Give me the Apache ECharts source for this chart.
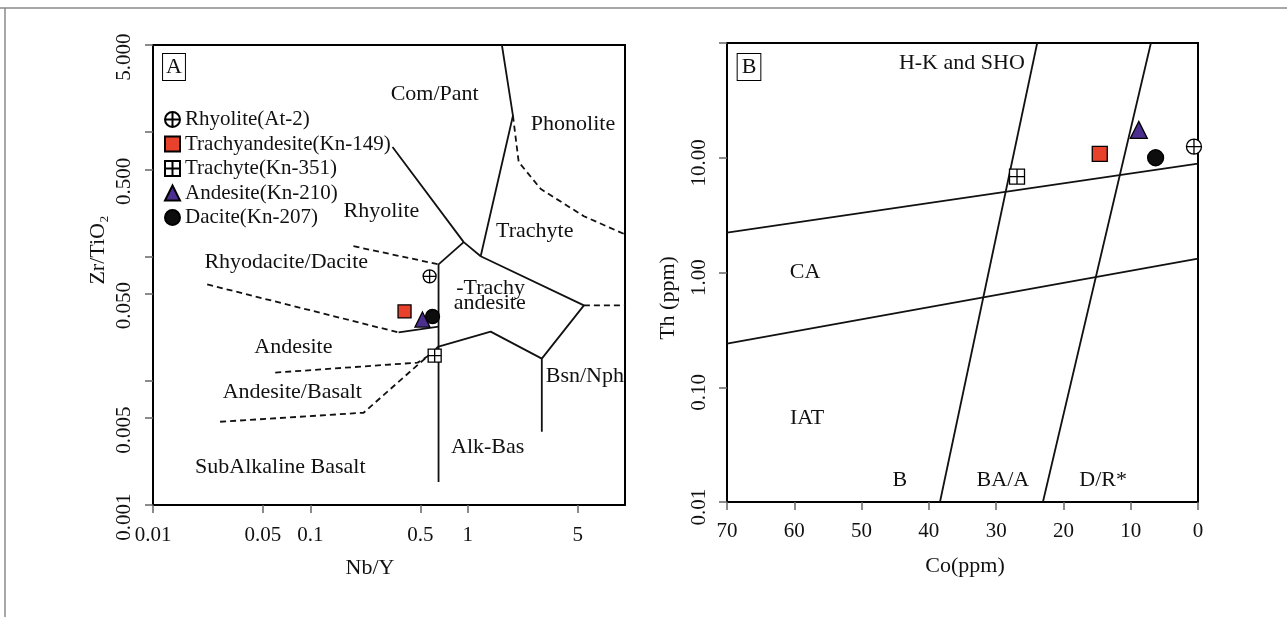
<!DOCTYPE html>
<html><head><meta charset="utf-8">
<script src="https://cdn.jsdelivr.net/npm/echarts@6/dist/echarts.min.js"></script>
<style>html,body{margin:0;padding:0;background:#fff}#c{width:1287px;height:617px}</style>
</head><body><div id="c"></div>
<script>
// ---------- data ----------
const sampleNames = ['Rhyolite(At-2)','Trachyandesite(Kn-149)','Trachyte(Kn-351)','Andesite(Kn-210)','Dacite(Kn-207)'];
// Panel A: Nb/Y vs Zr/TiO2
const nbY  = [0.573, 0.397, 0.617, 0.516, 0.598];
const zrTi = [0.069, 0.036, 0.0159, 0.031, 0.0328];
// Panel B: Co vs Th
const co = [0.6, 14.6, 26.9, 8.8, 6.3];
const th = [12.5, 10.8, 6.84, 17.5, 10.0];

// Panel A axis ticks
const aXTicks = [0.01, 0.05, 0.1, 0.5, 1, 5];
const aXTickLabels = ['0.01','0.05','0.1','0.5','1','5'];
const aYTicks = [0.001, 0.005, 0.01, 0.05, 0.1, 0.5, 1, 5];
const aYLabelValues = [0.001, 0.005, 0.05, 0.5, 5];
const aYTickLabels = ['0.001','0.005','0.050','0.500','5.000'];
const aXRange = [0.01, 10];
const aYRange = [0.001, 5];

// Panel B axis ticks
const bYRange = [0.01, 100];

// Panel A field boundaries (Nb/Y, Zr/TiO2)
const aSolid1 = [[0.653,0.00153],[0.653,0.0861],[0.944,0.130]];
const aSolid2 = [[0.333,0.757],[0.944,0.130],[1.21,0.100]];
const aSolid3 = [[1.65,5],[1.94,1.35],[1.21,0.100],[5.48,0.0403],[2.96,0.01503],[2.96,0.00388]];
const aSolid4 = [[2.96,0.01503],[1.40,0.0248],[0.653,0.0188]];
const aSolid5 = [[0.364,0.0244],[0.653,0.0272]];
const aDash1 = [[0.188,0.1205],[0.653,0.0861]];
const aDash2 = [[0.0221,0.0594],[0.364,0.0244]];
const aDash3 = [[0.0598,0.0116],[0.481,0.01396],[0.653,0.0178]];
const aDash4 = [[0.0267,0.00467],[0.218,0.00552],[0.653,0.0188]];
const aDash5 = [[1.94,1.35],[2.11,0.573],[2.92,0.347],[5.48,0.210],[10,0.150]];
const aDash6 = [[5.48,0.0403],[10,0.0403]];

// Panel B field boundaries (Co, Th)
const bLine1 = [[70,2.23],[0,8.87]];
const bLine2 = [[70,0.24],[0,1.32]];
const bLine3 = [[38.35,0.01],[23.9,100]];
const bLine4 = [[23.05,0.01],[7.0,100]];

// Field names
const aRegionNames = ['Com/Pant','Phonolite','Rhyolite','Trachyte','-Trachy','andesite','Rhyodacite/Dacite','Andesite','Andesite/Basalt','SubAlkaline Basalt','Alk-Bas','Bsn/Nph'];
const aRegionX = [0.617, 4.67, 0.283, 2.67, 1.40, 1.38, 0.0703, 0.078, 0.0768, 0.0644, 1.34, 5.56];
const aRegionY = [2.02, 1.16, 0.231, 0.159, 0.0555, 0.0420, 0.0895, 0.01845, 0.0080, 0.00202, 0.00294, 0.01077];
const bRegionNames = ['H-K and SHO','CA','IAT','B','BA/A','D/R*'];
const bRegionCo = [35.1, 58.4, 58.1, 44.3, 29.0, 14.1];
const bRegionTh = [67, 1.0, 0.0537, 0.0155, 0.0155, 0.0155];

// ---------- styles ----------
const F = 'Liberation Serif';
const TXT = '#111111';
const symCirclePlus = 'path://M0,-10A10,10,0,1,1,0,10A10,10,0,1,1,0,-10ZM-10,0L10,0M0,-10L0,10';
const symSquarePlus = 'path://M0,0L20,0L20,20L0,20ZM10,0L10,20M0,10L20,10';
const markerSymbols = [symCirclePlus, 'rect', symSquarePlus, 'triangle', 'circle'];
const markerFill = ['#ffffff', '#E8412C', '#ffffff', '#4B2E8E', '#0d0d0d'];
const markerSize = [13, 13, 13, 15, 14];
const markerZ = [4, 4, 4, 6, 5];

const L = Math.log10;
const lg = p => [L(p[0]), L(p[1])];
function fmtFrom(vals, labels) {
  return function (v) {
    for (let i = 0; i < vals.length; i++) if (Math.abs(L(vals[i]) - v) < 1e-6) return labels[i];
    return '';
  };
}

const series = [];
function lineA(pts, dashed) {
  series.push({ type: 'line', xAxisIndex: 0, yAxisIndex: 0, data: pts.map(lg), symbol: 'none', silent: true, z: 3,
    lineStyle: { color: '#111', width: 1.8, opacity: 1, type: dashed ? [6, 4] : 'solid' } });
}
function lineB(pts) {
  series.push({ type: 'line', xAxisIndex: 1, yAxisIndex: 1, data: pts, symbol: 'none', silent: true, z: 3,
    lineStyle: { color: '#111', width: 1.8, opacity: 1 } });
}
[aSolid1, aSolid2, aSolid3, aSolid4, aSolid5].forEach(p => lineA(p, false));
[aDash1, aDash2, aDash3, aDash4, aDash5, aDash6].forEach(p => lineA(p, true));
[bLine1, bLine2, bLine3, bLine4].forEach(lineB);

// field labels
const regionLabel = { show: true, position: 'inside', formatter: '{b}', fontFamily: F, fontSize: 22, color: TXT, opacity: 1 };
series.push({ type: 'scatter', xAxisIndex: 0, yAxisIndex: 0, symbolSize: 0, silent: true, z: 2,
  itemStyle: { opacity: 1 },
  data: aRegionNames.map((n, i) => ({ name: n, value: [L(aRegionX[i]), L(aRegionY[i])] })),
  label: regionLabel });
series.push({ type: 'scatter', xAxisIndex: 1, yAxisIndex: 1, symbolSize: 0, silent: true, z: 2,
  itemStyle: { opacity: 1 },
  data: bRegionNames.map((n, i) => ({ name: n, value: [bRegionCo[i], bRegionTh[i]] })),
  label: regionLabel });

// samples
sampleNames.forEach((n, i) => {
  const st = { color: markerFill[i], borderColor: '#000', borderWidth: 1.3, opacity: 1 };
  series.push({ type: 'scatter', name: n, xAxisIndex: 0, yAxisIndex: 0, z: markerZ[i],
    symbol: markerSymbols[i], symbolSize: markerSize[i], itemStyle: st,
    data: [[L(nbY[i]), L(zrTi[i])]] });
  series.push({ type: 'scatter', name: n, xAxisIndex: 1, yAxisIndex: 1, z: markerZ[i],
    symbol: markerSymbols[i], symbolSize: markerSize[i] + 2, itemStyle: st,
    data: [[co[i], th[i]]] });
});

const axisLine = { show: true, onZero: false, lineStyle: { color: '#000', width: 2 } };
const tick = { show: true, length: 8, lineStyle: { color: '#666', width: 1.5 } };
const lbl = { fontFamily: F, fontSize: 21, color: TXT };

const option = {
  animation: false,
  backgroundColor: '#fff',
  grid: [
    { left: 153, top: 45, width: 472, height: 460, show: true, borderColor: '#000', borderWidth: 2, backgroundColor: 'transparent' },
    { left: 727, top: 43, width: 471, height: 459, show: true, borderColor: '#000', borderWidth: 2, backgroundColor: 'transparent' }
  ],
  xAxis: [
    { type: 'value', gridIndex: 0, min: L(aXRange[0]), max: L(aXRange[1]), axisLine,
      axisTick: Object.assign({ customValues: aXTicks.map(L) }, tick),
      axisLabel: Object.assign({ customValues: aXTicks.map(L), formatter: fmtFrom(aXTicks, aXTickLabels), margin: 20 }, lbl),
      splitLine: { show: false } },
    { type: 'value', gridIndex: 1, min: 0, max: 70, interval: 10, inverse: true, axisLine,
      axisTick: tick,
      axisLabel: Object.assign({ margin: 19 }, lbl),
      splitLine: { show: false } }
  ],
  yAxis: [
    { type: 'value', gridIndex: 0, min: L(aYRange[0]), max: L(aYRange[1]), axisLine,
      axisTick: Object.assign({ customValues: aYTicks.map(L) }, tick),
      axisLabel: Object.assign({ customValues: aYLabelValues.map(L), formatter: fmtFrom(aYLabelValues, aYTickLabels), rotate: 90, margin: 18, padding: [0, 24, 0, 0] }, lbl),
      splitLine: { show: false } },
    { type: 'log', logBase: 10, gridIndex: 1, min: bYRange[0], max: bYRange[1], axisLine,
      axisTick: tick,
      axisLabel: Object.assign({ rotate: 90, margin: 17, padding: [0, 10, 0, 0],
        formatter: v => (v > 50 ? '' : Number(v).toFixed(2)) }, lbl),
      splitLine: { show: false } }
  ],
  legend: {
    data: sampleNames, orient: 'vertical', left: 159, top: 104, itemGap: 3.5,
    itemWidth: 15, itemHeight: 15, selectedMode: false,
    textStyle: { fontFamily: F, fontSize: 21, color: TXT }
  },
  graphic: [
    { type: 'line', shape: { x1: 0, y1: 8, x2: 1287, y2: 8 }, style: { stroke: '#8a8a8a', lineWidth: 1.5 } },
    { type: 'line', shape: { x1: 5, y1: 8, x2: 5, y2: 617 }, style: { stroke: '#8a8a8a', lineWidth: 1.5 } },
    { type: 'text', x: 174, y: 67, z: 10, style: { text: 'A', fontFamily: F, fontSize: 22, fill: TXT, align: 'center', verticalAlign: 'middle', textAlign: 'center', textVerticalAlign: 'middle', borderColor: '#000', borderWidth: 1, padding: [3, 3, 1, 3], backgroundColor: '#fff' } },
    { type: 'text', x: 749, y: 67, z: 10, style: { text: 'B', fontFamily: F, fontSize: 22, fill: TXT, align: 'center', verticalAlign: 'middle', textAlign: 'center', textVerticalAlign: 'middle', borderColor: '#000', borderWidth: 1, padding: [3, 4, 1, 4], backgroundColor: '#fff' } },
    { type: 'text', x: 370, y: 568, style: { text: 'Nb/Y', fontFamily: F, fontSize: 22, fill: TXT, align: 'center', verticalAlign: 'middle', textAlign: 'center', textVerticalAlign: 'middle' } },
    { type: 'text', x: 965, y: 566, style: { text: 'Co(ppm)', fontFamily: F, fontSize: 22, fill: TXT, align: 'center', verticalAlign: 'middle', textAlign: 'center', textVerticalAlign: 'middle' } },
    { type: 'text', x: 98, y: 250, rotation: Math.PI / 2, style: { text: 'Zr/TiO₂', fontFamily: F, fontSize: 22, fill: TXT, align: 'center', verticalAlign: 'middle', textAlign: 'center', textVerticalAlign: 'middle' } },
    { type: 'text', x: 668, y: 298, rotation: Math.PI / 2, style: { text: 'Th (ppm)', fontFamily: F, fontSize: 22, fill: TXT, align: 'center', verticalAlign: 'middle', textAlign: 'center', textVerticalAlign: 'middle' } }
  ],
  series
};
const chart = echarts.init(document.getElementById('c'), null, { renderer: 'canvas' });
chart.setOption(option);
</script>
</body></html>
